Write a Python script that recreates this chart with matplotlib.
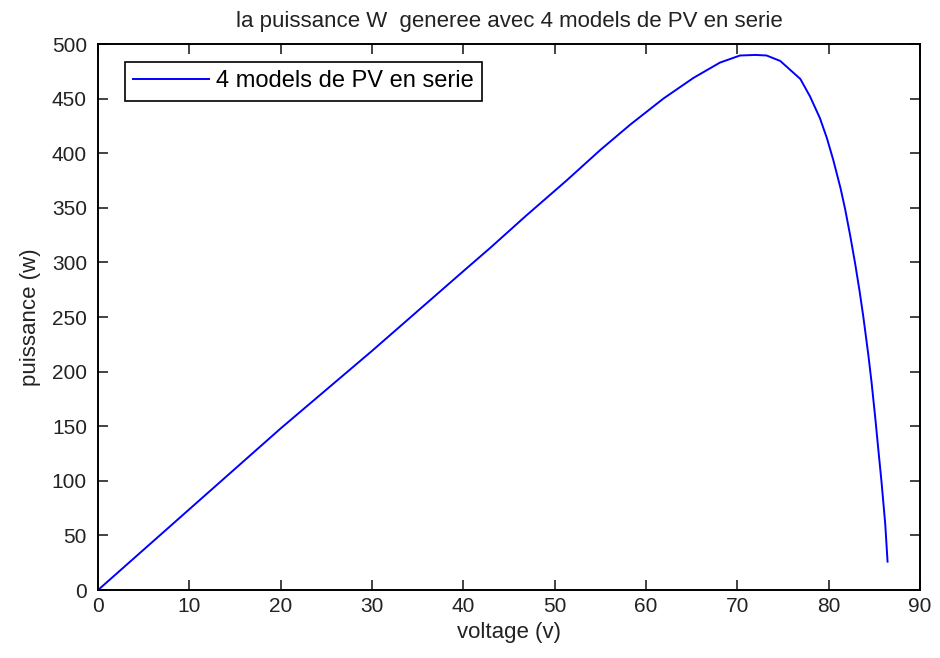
import matplotlib
matplotlib.use("Agg")
import matplotlib.pyplot as plt

plt.rcParams['font.family'] = ['Liberation Sans', 'DejaVu Sans']

# P-V curve of 4 PV modules in series
voltage = [0, 10, 20, 30, 40, 42.9, 46.9, 51.3, 55.0, 58.25, 61.9, 65.2, 68.1,
           70.3, 72.0, 73.2, 74.7, 76.9, 77.96, 79.05, 79.8, 80.5, 81.3, 81.8,
           82.35, 82.9, 83.4, 83.8, 84.35, 84.7, 85.1, 85.4, 85.8, 86.2, 86.45]
power = [0, 74, 148, 219, 292, 313, 343, 375, 403, 426, 450, 469, 483,
         489.5, 490, 489.5, 484.5, 468, 452, 432, 414, 394, 368, 349,
         325, 299, 273, 250, 215, 190, 158, 132, 98, 60, 26]

fig = plt.figure(figsize=(9.4, 6.58), dpi=100)
ax = fig.add_axes([0.1043, 0.1033, 0.8744, 0.8298])

ax.plot(voltage, power, color='#0000ff', lw=1.4, label='4 models de PV en serie')

ax.set_xlim(0, 90)
ax.set_ylim(0, 500)
ax.set_xticks(range(0, 91, 10))
ax.set_yticks(range(0, 501, 50))
ax.tick_params(direction='in', length=7, width=1.2, top=True, right=True,
               labelsize=15, colors='#222222')
ax.tick_params(axis='x', pad=5)
ax.tick_params(axis='y', pad=8)
for s in ax.spines.values():
    s.set_linewidth(1.4)
    s.set_color('black')

ax.set_title('la puissance W  generee avec 4 models de PV en serie',
             fontsize=16, color='#222222', pad=12)
ax.set_xlabel('voltage (v)', fontsize=16, color='#222222', labelpad=4)
ax.set_ylabel('puissance (w)', fontsize=16, color='#222222', labelpad=8)

leg = ax.legend(loc='upper left', fontsize=17, handlelength=3.2,
                handletextpad=0.3, borderpad=0.35, fancybox=False,
                framealpha=1, edgecolor='black', borderaxespad=0,
                bbox_to_anchor=(0.033, 0.967))
leg.get_frame().set_linewidth(1.2)

fig.savefig('out.png', dpi=100)
